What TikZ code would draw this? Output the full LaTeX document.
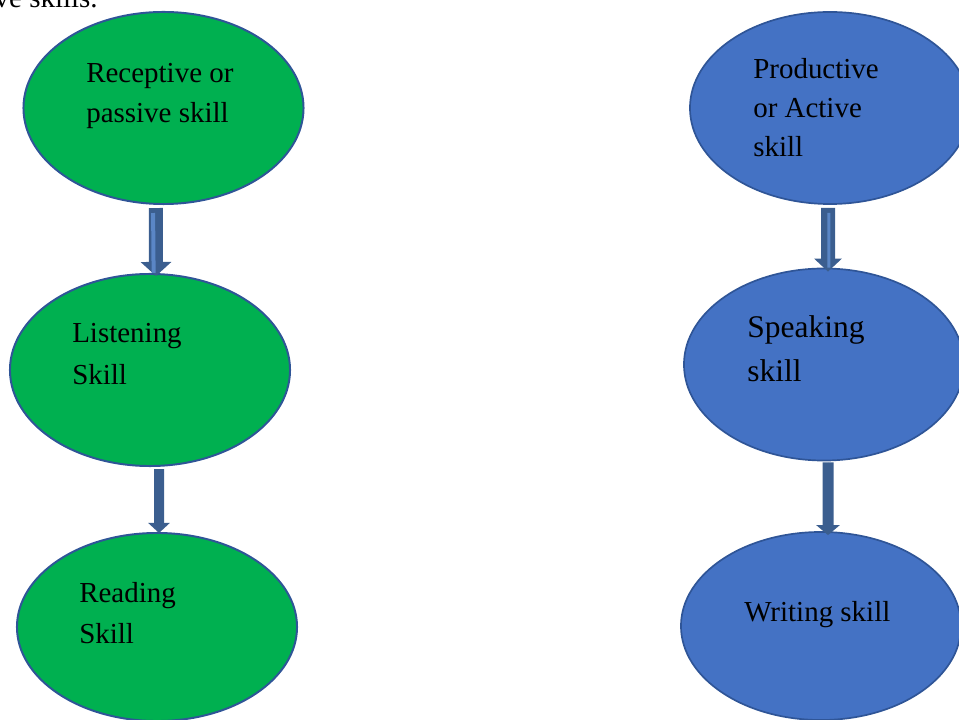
\documentclass[tikz,border=0pt]{standalone}
\usepackage{fontspec}
\setmainfont{Liberation Serif}
\usetikzlibrary{shapes.geometric, arrows.meta}
\definecolor{fillgreen}{HTML}{00B050}
\definecolor{fillblue}{HTML}{4472C4}
\definecolor{rimblue}{HTML}{2F5597}
\definecolor{arrblue}{HTML}{3B5E8F}
\definecolor{glint}{HTML}{5A86C6}
\tikzset{
    skillG/.style={draw=rimblue, line width=1.4pt, ellipse, fill=fillgreen, minimum width=7cm, minimum height=4.8cm},
    skillB/.style={draw=rimblue, line width=1.2pt, ellipse, fill=fillblue, minimum width=7cm, minimum height=4.8cm},
    txt/.style={inner sep=0pt, align=left, anchor=base west, font=\fontsize{20.6pt}{28.5pt}\selectfont},
    blk/.style={draw=arrblue, fill=arrblue, line width=#1, line cap=butt},
    shine/.style={draw=glint, line width=#1, line cap=butt}
}

\begin{document}
\begin{tikzpicture}[x=0.025cm, y=-0.025cm]
    \useasboundingbox (0,0) rectangle (959,720);

    \node[inner sep=0pt, anchor=base east, font=\fontsize{20.6pt}{28.5pt}\selectfont] (cut) at (98,8) {ve skills.};

    % receptive side
    \node[skillG] (recep) at (163.5,108) {};
    \node[skillG] (listen) at (150,370) {};
    \node[skillG, minimum height=4.7cm] (read) at (157,627) {};
    \node[txt] (recepT) at (86,123) {Receptive or\\passive skill};
    \node[txt, font=\fontsize{20.6pt}{29.9pt}\selectfont] (listenT) at (72,385) {Listening\\Skill};
    \node[txt] (readT) at (79,643) {Reading\\Skill};

    % productive side
    \node[skillB] (prod) at (830,108) {};
    \node[skillB] (speak) at (824,364.5) {};
    \node[skillB, minimum height=4.7cm] (write) at (821,626) {};
    \node[txt, font=\fontsize{20.6pt}{27.8pt}\selectfont] (prodT) at (753,157) {Productive\\or Active\\skill};
    \node[txt, font=\fontsize{22.4pt}{32pt}\selectfont] (speakT) at (747,382) {Speaking\\skill};
    \node[txt] (writeT) at (744,621) {Writing skill};

    \draw[blk=0.35cm, -{Triangle[width=0.75cm, length=0.35cm]}]
        ([xshift=-0.19cm, yshift=-0.075cm]recep.south) -- ([xshift=0.15cm, yshift=-0.075cm]listen.north);
    \draw[shine=0.1cm] ([xshift=-0.26cm, yshift=-0.2cm]recep.south) -- ([xshift=0.09cm, yshift=0cm]listen.north);
    \draw[blk=0.25cm, -{Triangle[width=0.525cm, length=0.25cm]}]
        ([xshift=0.225cm, yshift=-0.05cm]listen.south) -- ([xshift=0.05cm, yshift=-0.025cm]read.north);
    \draw[blk=0.35cm, -{Triangle[width=0.675cm, length=0.325cm]}]
        ([xshift=-0.05cm, yshift=-0.075cm]prod.south) -- ([xshift=0.1cm, yshift=-0.1cm]speak.north);
    \draw[shine=0.075cm] ([xshift=-0.03cm, yshift=-0.2cm]prod.south) -- ([xshift=0.12cm, yshift=0cm]speak.north);
    \draw[blk=0.275cm, -{Triangle[width=0.575cm, length=0.25cm]}]
        ([xshift=0.1cm, yshift=-0.025cm]speak.south) -- ([xshift=0.175cm, yshift=-0.1cm]write.north);
\end{tikzpicture}
\end{document}
